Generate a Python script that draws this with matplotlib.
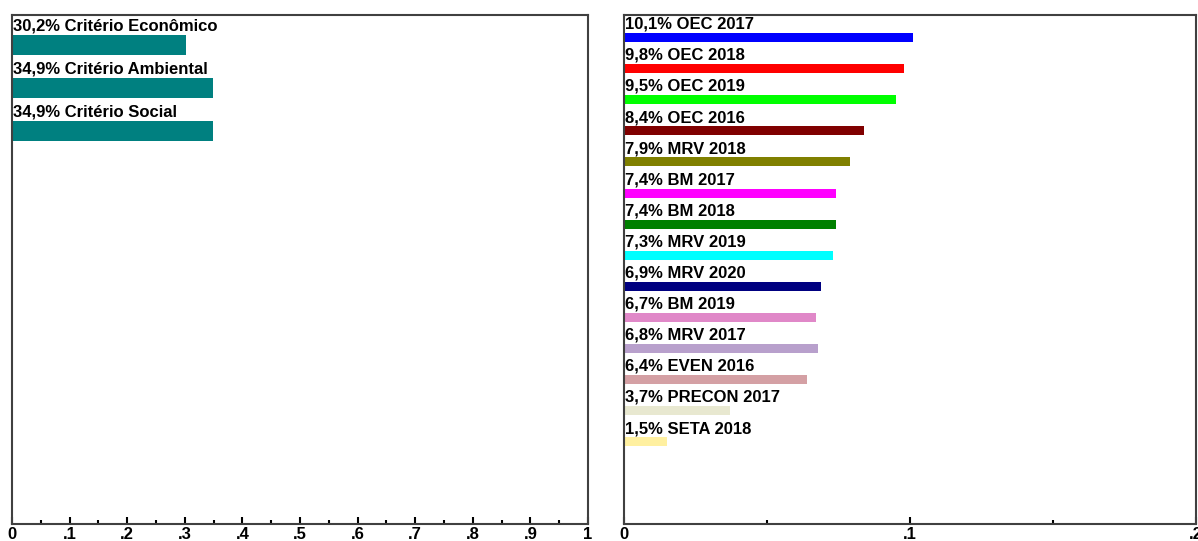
import numpy as np
import matplotlib
matplotlib.use("Agg")
import matplotlib.pyplot as plt
from matplotlib.ticker import MultipleLocator, FuncFormatter

# Data
crit_labels = ["Critério Econômico", "Critério Ambiental", "Critério Social"]
crit_values = [0.302, 0.349, 0.349]

alt_labels = ["OEC 2017", "OEC 2018", "OEC 2019", "OEC 2016", "MRV 2018",
              "BM 2017", "BM 2018", "MRV 2019", "MRV 2020", "BM 2019",
              "MRV 2017", "EVEN 2016", "PRECON 2017", "SETA 2018"]
alt_values = [0.101, 0.098, 0.095, 0.084, 0.079, 0.074, 0.074, 0.073,
              0.069, 0.067, 0.068, 0.064, 0.037, 0.015]
alt_colors = ["#0000FF", "#FF0000", "#00FF00", "#800000", "#808000",
              "#FF00FF", "#008000", "#00FFFF", "#000080", "#E088C8",
              "#B8A0CC", "#D4A0A4", "#E8E8D0", "#FFF0A0"]

# Format
plt.rcParams["font.family"] = ["Liberation Sans", "DejaVu Sans"]
plt.rcParams["font.weight"] = "bold"
fontsize = 12
spine_color = "#404040"


def fmt_tick(v, pos):
    if abs(v) < 1e-9:
        return "0"
    if abs(v - 1) < 1e-9:
        return "1"
    return ("%.1f" % v).lstrip("0")


def style_axes(ax, xmax):
    ax.set_xlim(0, xmax)
    for s in ax.spines.values():
        s.set_color(spine_color)
        s.set_linewidth(1.5)
    ax.set_yticks([])
    ax.xaxis.set_major_locator(MultipleLocator(0.1))
    ax.xaxis.set_minor_locator(MultipleLocator(0.05))
    ax.xaxis.set_major_formatter(FuncFormatter(fmt_tick))
    ax.tick_params(axis="x", which="major", direction="in", length=5,
                   width=1.5, color="black", labelsize=fontsize, pad=2.5)
    ax.tick_params(axis="x", which="minor", direction="in", length=3,
                   width=1.5, color="black")
    for lab in ax.get_xticklabels():
        lab.set_fontweight("bold")


def draw(ax, labels, values, colors, top, bottom, height, xmax):
    pos = np.arange(len(values))
    ax.barh(pos, values, height=height, color=colors, edgecolor="none")
    for p, v, l in zip(pos, values, labels):
        txt = "%s%% %s" % (("%.1f" % (v * 100)).replace(".", ","), l)
        ax.text(0.0015 * xmax, p - height / 2 - 0.04, txt,
                ha="left", va="bottom", fontsize=fontsize, fontweight="bold", color="black")
    ax.set_ylim(bottom, top)
    style_axes(ax, xmax)


fig = plt.figure(figsize=(11.98, 5.41), dpi=100)
ax1 = fig.add_axes([12 / 1198, 17 / 541, 576 / 1198, 509 / 541])
ax2 = fig.add_axes([624 / 1198, 17 / 541, 572 / 1198, 509 / 541])

# pixel geometry -> row units
draw(ax1, crit_labels, crit_values, "#008080",
     top=(15 - 45) / 43, bottom=(524 - 45) / 43, height=20 / 43, xmax=1.0)
draw(ax2, alt_labels, alt_values, alt_colors,
     top=(15 - 37.5) / 31.1, bottom=(524 - 37.5) / 31.1, height=9 / 31.1, xmax=0.2)

fig.savefig("out.png", dpi=100)
